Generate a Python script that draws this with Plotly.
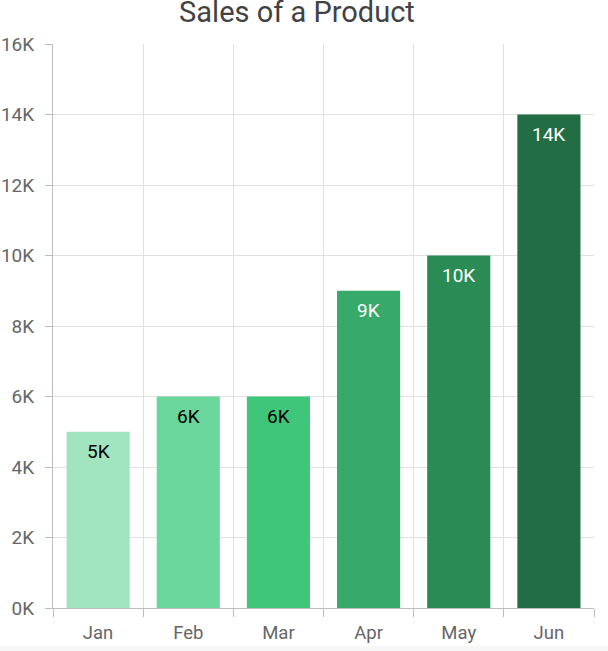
import plotly.graph_objects as go

months = ["Jan", "Feb", "Mar", "Apr", "May", "Jun"]
sales = [5000, 6000, 6000, 9000, 10000, 14000]
bar_colors = ["#a1e4c0", "#6bd69b", "#3fc67a", "#37aa6a", "#2a8b54", "#226d43"]
label_colors = ["#000000", "#000000", "#000000", "#ffffff", "#ffffff", "#ffffff"]
y_ticks = [0, 2000, 4000, 6000, 8000, 10000, 12000, 14000, 16000]
y_tick_text = ["0K", "2K", "4K", "6K", "8K", "10K", "12K", "14K", "16K"]

fig = go.Figure()
fig.add_trace(go.Bar(
    x=months, y=sales, marker=dict(color=bar_colors, line=dict(width=0)),
    hoverinfo="x+y",
))

for m, v, c in zip(months, sales, label_colors):
    fig.add_annotation(
        x=m, y=v, xref="x", yref="y", text=f"{v // 1000}K", showarrow=False,
        yanchor="top", yshift=-6, font=dict(family="Roboto", size=19, color=c),
    )

# page strip at the bottom
fig.add_shape(type="rect", xref="paper", yref="paper", x0=-0.2, x1=1.2,
              y0=-(646 - 608) / 564 - 0.5, y1=-(646 - 608) / 564,
              fillcolor="#f7f7f7", line=dict(width=0), layer="below")

fig.update_layout(
    width=608, height=651,
    margin=dict(l=53, r=14, t=44, b=43, autoexpand=False),
    paper_bgcolor="white", plot_bgcolor="white",
    font=dict(family="Roboto", color="#666666"),
    bargap=0.3,
    showlegend=False,
    title=dict(text="Sales of a Product", x=297 / 608, xanchor="center",
               y=1 - 12 / 651, yanchor="middle", yref="container",
               font=dict(family="Roboto", size=29, color="#424242")),
    xaxis=dict(
        type="category", tickson="boundaries", ticks="outside", ticklen=8,
        tickcolor="#bdbdbd", showline=True, linecolor="#bdbdbd", linewidth=1,
        showgrid=True, gridcolor="#e0e0e0", gridwidth=1,
        ticklabelstandoff=8, automargin=False,
        tickfont=dict(size=18.5, color="#666666"), fixedrange=True,
    ),
    yaxis=dict(
        range=[0, 16000], tickvals=y_ticks, ticktext=y_tick_text,
        ticks="outside", ticklen=7, tickcolor="#bdbdbd",
        showline=True, linecolor="#bdbdbd", linewidth=1,
        showgrid=True, gridcolor="#e0e0e0", gridwidth=1, zeroline=False,
        ticklabelstandoff=7, automargin=False,
        tickfont=dict(size=19, color="#666666"), fixedrange=True,
    ),
)

fig.write_html("out.html", config={"displayModeBar": False},
               post_script="document.body.style.margin='0';document.body.style.overflow='hidden';")
